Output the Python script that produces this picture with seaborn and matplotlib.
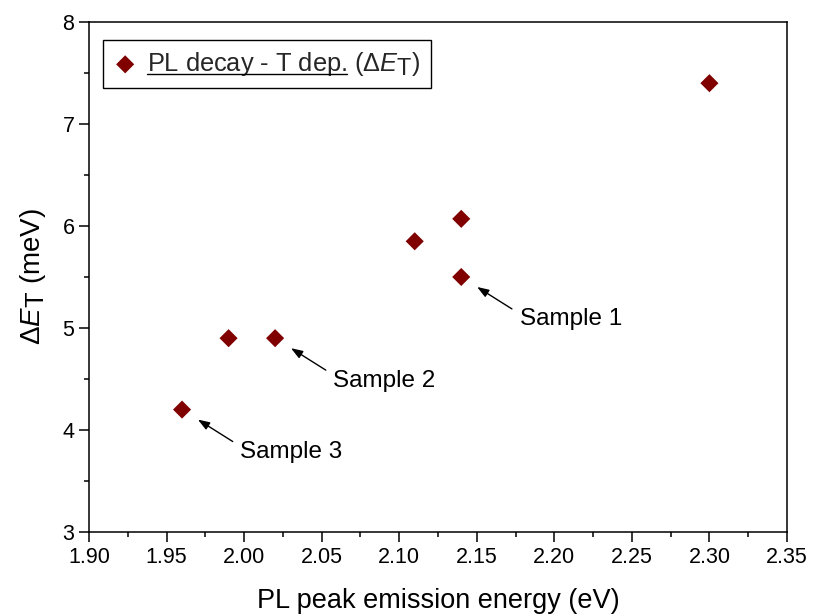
import matplotlib
matplotlib.use("Agg")
import matplotlib.pyplot as plt
import matplotlib._mathtext as _mt
import seaborn as sns
import pandas as pd
from matplotlib.lines import Line2D
from matplotlib.ticker import MultipleLocator, FormatStrFormatter

# ---- data ----
pl_energy = [1.96, 1.99, 2.02, 2.11, 2.14, 2.14, 2.30]
delta_et = [4.20, 4.90, 4.90, 5.85, 6.07, 5.50, 7.40]
sample_labels = ["Sample 1", "Sample 2", "Sample 3"]
sample_x = [2.14, 2.02, 1.96]
sample_y = [5.50, 4.90, 4.20]
x_ticks = [1.90, 1.95, 2.00, 2.05, 2.10, 2.15, 2.20, 2.25, 2.30, 2.35]
y_ticks = [3, 4, 5, 6, 7, 8]

sns.set_style("ticks")
plt.rcParams['font.family'] = ['Liberation Sans', 'DejaVu Sans']
plt.rcParams['mathtext.fontset'] = 'custom'
plt.rcParams['mathtext.rm'] = 'Liberation Sans'
plt.rcParams['mathtext.it'] = 'Liberation Sans:italic'
plt.rcParams['mathtext.bf'] = 'Liberation Sans:bold'
# subscripts nearly full size, like the original
try:
    _mt.SHRINK_FACTOR = 0.92
except Exception:
    pass

df = pd.DataFrame({"x": pl_energy, "y": delta_et})

fig = plt.figure(figsize=(8.14, 6.16), dpi=100)
ax = fig.add_axes([0.1093, 0.1364, 0.8575, 0.8279])

legend_label = r"PL decay - T dep. ($\Delta\mathit{E}_\mathrm{T}$)"
sns.scatterplot(data=df, x="x", y="y", marker="D", color="#800000", s=85,
                edgecolor="none", linewidth=0, ax=ax, label=legend_label, zorder=3)

ax.set_xlim(x_ticks[0], x_ticks[-1])
ax.set_ylim(y_ticks[0], y_ticks[-1])
ax.set_xticks(x_ticks)
ax.set_yticks(y_ticks)
ax.xaxis.set_major_formatter(FormatStrFormatter('%.2f'))
ax.yaxis.set_major_formatter(FormatStrFormatter('%d'))
ax.xaxis.set_minor_locator(MultipleLocator(0.025))
ax.yaxis.set_minor_locator(MultipleLocator(0.5))
ax.tick_params(which='major', direction='out', length=7, width=1.1, labelsize=15.5, color='black', labelcolor='black', top=False, right=False)
ax.tick_params(which='minor', direction='out', length=3.6, width=1.1, color='black', top=False, right=False)
for sp in ax.spines.values():
    sp.set_visible(True)
    sp.set_linewidth(1.1)
    sp.set_color('black')

ax.set_xlabel("PL peak emission energy (eV)", fontsize=19.5, color='black', labelpad=15)
ax.set_ylabel(r"$\Delta\mathit{E}_\mathrm{T}$ (meV)", fontsize=20, color='black', labelpad=10)

# annotations
for lab, sx, sy in zip(sample_labels, sample_x, sample_y):
    ax.annotate("", xy=(sx, sy), xytext=(36.5, -23), textcoords='offset points',
                arrowprops=dict(arrowstyle='-|>,head_length=0.7,head_width=0.25', color='black',
                                lw=1.0, shrinkA=0, shrinkB=13.5))
    ax.annotate(lab, xy=(sx, sy), xytext=(42, -30.5), textcoords='offset points',
                fontsize=17.5, color='black', ha='left', va='center')

leg = ax.legend(loc='upper left', bbox_to_anchor=(0.02, 0.965), fontsize=18.3, frameon=True,
                fancybox=False, edgecolor='black', framealpha=1, borderpad=0.4,
                handletextpad=0.4, handlelength=0.95, borderaxespad=0)
leg.get_frame().set_linewidth(1.0)

fig.canvas.draw()
txt = leg.get_texts()[0]
bb = txt.get_window_extent()
tmp = fig.text(0, 0, "PL decay - T dep.", fontsize=18.3)
w = tmp.get_window_extent().width
tmp.remove()
uy = bb.y0 + 4
fig.add_artist(Line2D([bb.x0, bb.x0 + w], [uy, uy], transform=None, color='black', lw=1.0))

fig.savefig("out.png", dpi=100)
